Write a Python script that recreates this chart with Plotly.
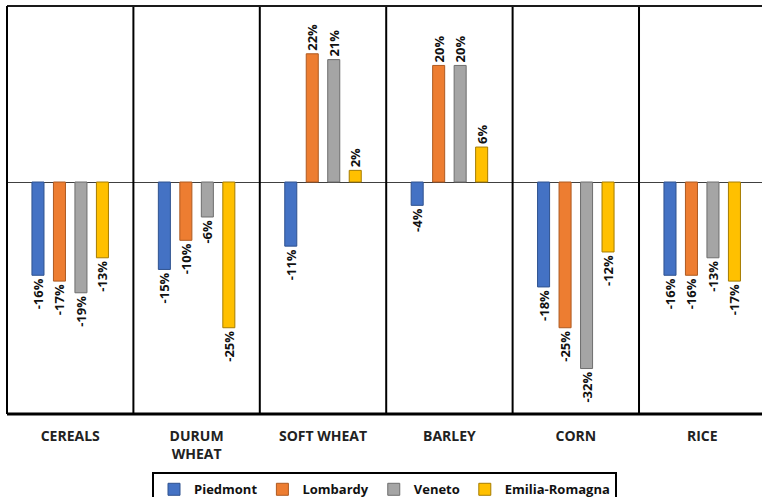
import plotly.graph_objects as go

categories = ["CEREALS", "DURUM<br>WHEAT", "SOFT WHEAT", "BARLEY", "CORN", "RICE"]
regions = ["Piedmont", "Lombardy", "Veneto", "Emilia-Romagna"]
piedmont = [-16, -15, -11, -4, -18, -16]
lombardy = [-17, -10, 22, 20, -25, -16]
veneto = [-19, -6, 21, 20, -32, -13]
emilia_romagna = [-13, -25, 2, 6, -12, -17]

series = [piedmont, lombardy, veneto, emilia_romagna]
fills = ["#4472C4", "#ED7D31", "#A5A5A5", "#FFC000"]
edges = ["#2F528F", "#AE5A21", "#6E6E6E", "#A67C00"]

font_family = "Open Sans, DejaVu Sans, sans-serif"

fig = go.Figure()
x_idx = list(range(len(categories)))
for name, vals, fc, ec in zip(regions, series, fills, edges):
    fig.add_trace(go.Bar(
        name=name,
        x=x_idx,
        y=vals,
        text=[f"{v}%" for v in vals],
        textposition="outside",
        textangle=-90,
        constraintext="none",
        cliponaxis=False,
        textfont=dict(family=font_family, size=13, color="#111111", weight="bold"),
        marker=dict(color=fc, line=dict(color=ec, width=1)),
    ))

# frame lines and category separators
shapes = []
for k in range(1, len(categories)):
    shapes.append(dict(type="line", xref="x", yref="paper", x0=k - 0.5, x1=k - 0.5,
                       y0=0, y1=1, line=dict(color="#000000", width=2)))
shapes.append(dict(type="line", xref="paper", yref="paper", x0=0, x1=1, y0=1, y1=1,
                   line=dict(color="#1a1a1a", width=2)))
shapes.append(dict(type="line", xref="paper", yref="paper", x0=0, x1=0, y0=0, y1=1,
                   line=dict(color="#000000", width=2)))
shapes.append(dict(type="line", xref="paper", yref="paper", x0=0, x1=1, y0=0, y1=0,
                   line=dict(color="#000000", width=3)))

fig.update_layout(
    width=762, height=497,
    margin=dict(l=7, r=0, t=6, b=83, autoexpand=False),
    paper_bgcolor="white",
    plot_bgcolor="white",
    barmode="group",
    bargap=0.32,
    bargroupgap=0.44,
    shapes=shapes,
    showlegend=True,
    legend=dict(
        orientation="h",
        x=0.5, xanchor="center",
        y=-0.143, yanchor="top",
        bordercolor="#000000", borderwidth=2,
        font=dict(family=font_family, size=13, color="#111111", weight="bold"),
        itemwidth=30,
        traceorder="normal",
    ),
    xaxis=dict(
        tickmode="array",
        tickvals=x_idx,
        ticktext=categories,
        range=[-0.5, 5.473],
        showgrid=False,
        showline=False,
        zeroline=False,
        ticks="",
        ticklabelstandoff=12,
        tickfont=dict(family=font_family, size=14, color="#222222", weight="bold"),
    ),
    yaxis=dict(
        range=[-39.8, 30.2],
        showgrid=False,
        showticklabels=False,
        showline=False,
        zeroline=True,
        zerolinecolor="#404040",
        zerolinewidth=1,
    ),
)

fig.write_html("out.html")
